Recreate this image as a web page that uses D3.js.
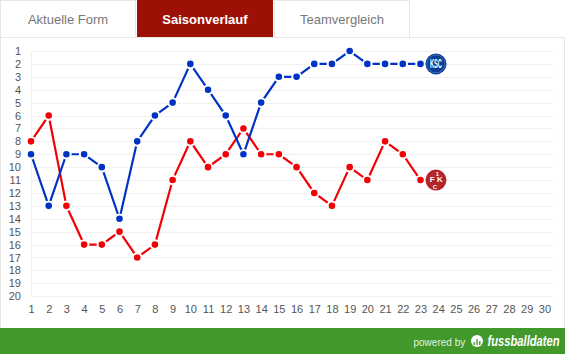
<!DOCTYPE html>
<html>
<head>
<meta charset="utf-8">
<script src="https://cdn.jsdelivr.net/npm/d3@7"></script>
<style>
html, body { margin: 0; padding: 0; background: #fff; overflow: hidden; }
text { font-family: "Liberation Sans", Arial, sans-serif; }
</style>
</head>
<body>
<div id="chart"></div>
<script>
// spieltage + platzierungen
var matchdays = d3.range(1, 31);
var ranks = d3.range(1, 21);
var kscRanks = [9, 13, 9, 9, 10, 14, 8, 6, 5, 2, 4, 6, 9, 5, 3, 3, 2, 2, 1, 2, 2, 2, 2];
var fckRanks = [8, 6, 13, 16, 16, 15, 17, 16, 11, 8, 10, 9, 7, 9, 9, 10, 12, 13, 10, 11, 8, 9, 11];
var tabLabels = ["Aktuelle Form", "Saisonverlauf", "Teamvergleich"];

var width = 565, height = 354;

var svg = d3.select('#chart').append('svg')
    .attr('width', width)
    .attr('height', height)
    .style('display', 'block');

var xScale = d3.scaleLinear().domain([1, 30]).range([31, 544.4]);
var yScale = d3.scaleLinear().domain([1, 20]).range([51, 296.2]);

// panel border
svg.append('rect')
    .attr('x', 0.5).attr('y', 37.5)
    .attr('width', 564).attr('height', 300)
    .attr('fill', '#fff').attr('stroke', '#e6e6e6');

// tabs
var tabs = [
    { x: 0.5, w: 135, y: 0.5, fill: '#fff', stroke: '#e6e6e6', color: '#777', weight: 'normal' },
    { x: 137, w: 136, y: 0, fill: '#9c1006', stroke: 'none', color: '#fff', weight: 'bold' },
    { x: 274.5, w: 135, y: 0.5, fill: '#fff', stroke: '#e6e6e6', color: '#777', weight: 'normal' }
];
tabs.forEach(function (t, i) {
    svg.append('rect')
        .attr('x', t.x).attr('y', t.y)
        .attr('width', t.w).attr('height', 37)
        .attr('fill', t.fill).attr('stroke', t.stroke);
    svg.append('text')
        .attr('x', t.x + t.w / 2).attr('y', 24)
        .attr('text-anchor', 'middle')
        .attr('font-size', 13)
        .attr('font-weight', t.weight)
        .attr('fill', t.color)
        .text(tabLabels[i]);
});

// grid
svg.append('g').selectAll('line')
    .data(ranks)
    .enter().append('line')
    .attr('x1', 31).attr('x2', 553)
    .attr('y1', function (d) { return Math.round(yScale(d)) + 0.5; })
    .attr('y2', function (d) { return Math.round(yScale(d)) + 0.5; })
    .attr('stroke', '#f0f0f0');

svg.append('line')
    .attr('x1', 31.5).attr('x2', 31.5)
    .attr('y1', 51).attr('y2', 297)
    .attr('stroke', '#f0f0f0');

// axes
var yAxis = d3.axisLeft(yScale).tickValues(ranks).tickSize(0).tickPadding(0);
var xAxis = d3.axisBottom(xScale).tickValues(matchdays).tickSize(0).tickPadding(0);

var yG = svg.append('g').attr('transform', 'translate(21,0)').call(yAxis);
var xG = svg.append('g').attr('transform', 'translate(0,305)').call(xAxis);
yG.select('.domain').remove();
xG.select('.domain').remove();
yG.selectAll('text').attr('font-size', 11).attr('fill', '#555').attr('font-family', '"Liberation Sans", Arial, sans-serif');
xG.selectAll('text').attr('font-size', 11).attr('fill', '#555').attr('font-family', '"Liberation Sans", Arial, sans-serif');

var line = d3.line()
    .x(function (d, i) { return xScale(i + 1); })
    .y(function (d) { return yScale(d); });

function drawSeries(values, color) {
    var g = svg.append('g');
    g.append('path')
        .datum(values)
        .attr('d', line)
        .attr('fill', 'none')
        .attr('stroke', color)
        .attr('stroke-width', 2.2);
    // white ring around the dots
    g.selectAll('circle')
        .data(values)
        .enter().append('circle')
        .attr('cx', function (d, i) { return xScale(i + 1); })
        .attr('cy', function (d) { return yScale(d); })
        .attr('r', 4.3)
        .attr('fill', color)
        .attr('stroke', '#fff')
        .attr('stroke-width', 2);
}

drawSeries(fckRanks, '#f20006');
drawSeries(kscRanks, '#0033c4');

// club badges, just after the last matchday
function badge(rank, fill, draw) {
    var g = svg.append('g')
        .attr('transform', 'translate(' + (xScale(24) - 2.2) + ',' + yScale(rank) + ')');
    g.append('circle').attr('r', 10.5).attr('fill', fill);
    draw(g);
}

badge(kscRanks[kscRanks.length - 1], '#0d3c94', function (g) {
    g.append('circle').attr('r', 9).attr('fill', 'none').attr('stroke', '#3f68b5').attr('stroke-width', 1);
    g.append('text')
        .attr('text-anchor', 'middle')
        .attr('y', 4.5)
        .attr('font-size', 13)
        .attr('font-weight', 'bold')
        .attr('fill', '#fff')
        .attr('textLength', 12)
        .attr('lengthAdjust', 'spacingAndGlyphs')
        .text('KSC');
});

badge(fckRanks[fckRanks.length - 1], '#b3262c', function (g) {
    g.append('text').attr('x', 1.5).attr('y', -4.5).attr('text-anchor', 'middle')
        .attr('font-size', 6).attr('font-weight', 'bold').attr('fill', '#fff').text('1');
    g.append('text').attr('x', -3.8).attr('y', 2).attr('text-anchor', 'middle')
        .attr('font-size', 8).attr('font-weight', 'bold').attr('fill', '#fff').text('F');
    g.append('text').attr('x', 3.8).attr('y', 2).attr('text-anchor', 'middle')
        .attr('font-size', 8).attr('font-weight', 'bold').attr('fill', '#fff').text('K');
    g.append('text').attr('x', -1).attr('y', 9).attr('text-anchor', 'middle')
        .attr('font-size', 6).attr('font-weight', 'bold').attr('fill', '#fff').text('C');
});

// footer
svg.append('rect')
    .attr('x', 0).attr('y', 328)
    .attr('width', width).attr('height', 26)
    .attr('fill', '#43982c');

svg.append('text')
    .attr('x', 413.5).attr('y', 345.5)
    .attr('font-size', 10)
    .attr('fill', '#e4f0df')
    .text('powered by');

svg.append('circle').attr('cx', 477).attr('cy', 341).attr('r', 6).attr('fill', '#fff');
[[474.2, 3], [477, 6], [479.8, 4]].forEach(function (b) {
    svg.append('rect')
        .attr('x', b[0] - 0.7).attr('y', 345 - b[1])
        .attr('width', 1.4).attr('height', b[1])
        .attr('fill', '#43982c');
});

// squeezed horizontally, the wordmark is narrower than the font
svg.append('text')
    .attr('transform', 'translate(487.5,345.5) scale(0.8,1)')
    .attr('font-size', 14)
    .attr('font-weight', 'bold')
    .attr('font-style', 'italic')
    .attr('fill', '#fff')
    .text('fussballdaten');
</script>
</body>
</html>
